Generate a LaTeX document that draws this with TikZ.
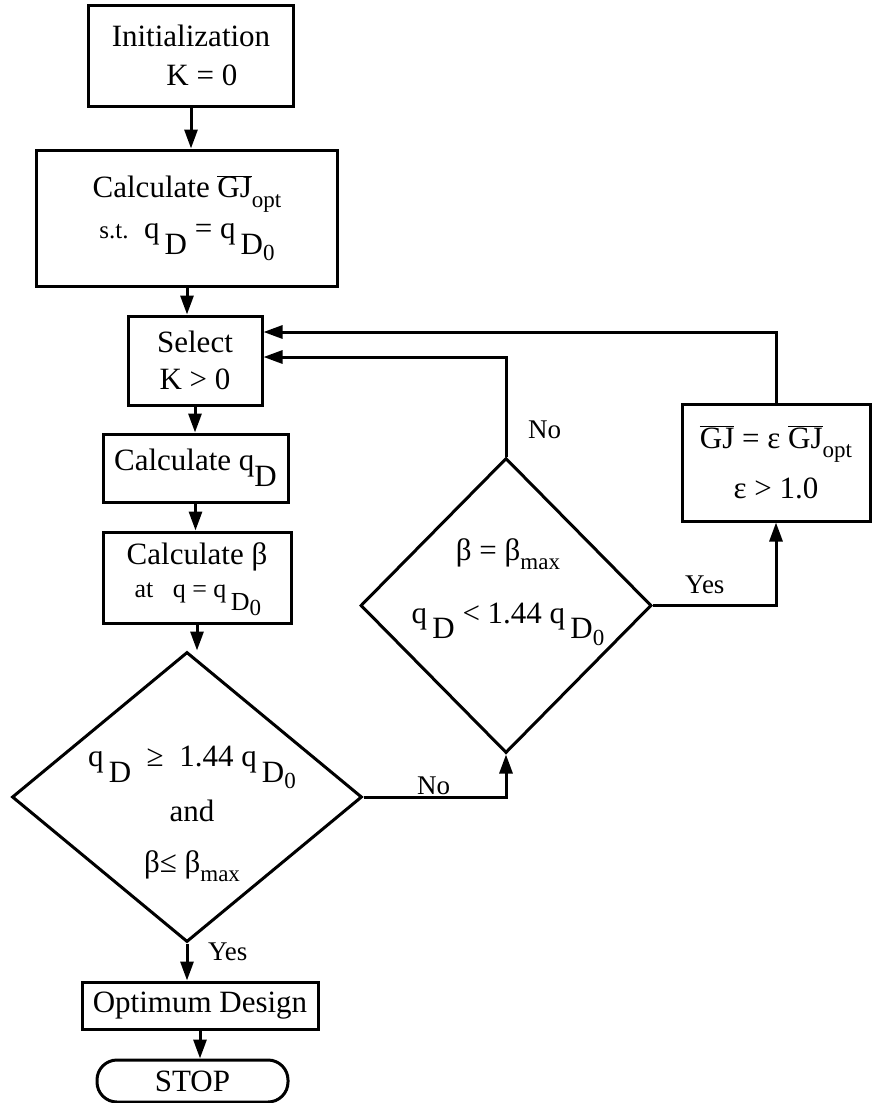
\documentclass[tikz,border=0pt]{standalone}
\usepackage{fontspec}
\setmainfont{Liberation Serif}
\usetikzlibrary{arrows.meta,shapes.geometric,calc}
\newcommand\sbs[1]{\raisebox{-0.5em}{#1}}
\newcommand\sml[1]{{\fontsize{23}{23}\selectfont #1}}
\newcommand\ovl[1]{$\overline{\hbox{#1}}$}
\newcommand\Dz{D\raisebox{-0.2em}{\sml{0}}}
\begin{document}
\begin{tikzpicture}[x=1pt,y=-1pt,
  every node/.style={font=\fontsize{31}{35}\selectfont},
  box/.style={draw, line width=3pt, inner sep=0pt, align=center},
  dia/.style={draw, diamond, line width=3pt, inner sep=0pt},
  txt/.style={inner sep=0pt, align=center},
  conn/.style={line width=3pt},
  arr/.style={conn, -{Triangle[length=19pt,width=13pt]}},
  lbl/.style={font=\fontsize{27}{30}\selectfont, inner sep=0pt}]
\useasboundingbox (0,0) rectangle (872,1103);

% main column
\node[box, minimum width=205pt, minimum height=101pt] (init) at (191,55.5)
  {Initialization\\[4pt]\hspace*{0.7em}K = 0};
\node[box, minimum width=301pt, minimum height=136pt] (gj) at (187,218)
  {Calculate \ovl{GJ}\raisebox{-0.3em}{\sml{opt}}\\[6pt]
   {\fontsize{25}{25}\selectfont s.t.}\ \ q\,\sbs{D} = q\,\sbs{\Dz}};
\node[box, minimum width=134pt, minimum height=89pt] (sel) at (195,360.5)
  {Select\\[2pt]K > 0};
\node[box, minimum width=185pt, minimum height=68pt] (cq) at (195.5,468)
  {\raisebox{0.3em}{Calculate q\sbs{D}}};
\node[box, minimum width=188pt, minimum height=91pt] (cb) at (197,577.5)
  {\raisebox{0.4em}{\begin{tabular}{@{}l@{}}Calculate β\\[-2pt]
   {\fontsize{26}{26}\selectfont \hspace*{0.3em}at \ \ q = q\,\sbs{\Dz}}\end{tabular}}};

\node[dia, minimum width=350pt, minimum height=290pt] (d1) at (187,797) {};
\node[txt] (d1t) at (192,814)
  {q\,\sbs{D} \ ≥ \ 1.44 q\,\sbs{\Dz}\\[10pt] and\\[16pt] β≤ β\raisebox{-0.3em}{\sml{max}}};

\node[box, minimum width=236pt, minimum height=47pt] (od) at (200,1005.5)
  {Optimum Design};
\node[draw, line width=3pt, rounded corners=20pt, minimum width=191pt,
  minimum height=42pt, inner sep=0pt] (stop) at (192.5,1081) {STOP};

% right part
\node[dia, minimum width=291pt, minimum height=295pt] (d2) at (506,605.5) {};
\node[txt] (d2t) at (508,592)
  {β = β\raisebox{-0.3em}{\sml{max}}\\[28pt] q\,\sbs{D} < 1.44 q\,\sbs{\Dz}};

\node[box, minimum width=188pt, minimum height=117pt] (gjb) at (776,462.5)
  {\raisebox{0.3em}{\ovl{GJ} = ε \ovl{GJ}\raisebox{-0.3em}{\sml{opt}}}\\[6pt]ε > 1.0};

\coordinate (fbA) at (0,332);
\coordinate (fbB) at (0,357);

% connectors
\draw[arr] (init.south) -- (init.south |- gj.north);
\draw[arr] (gj.south) -- (gj.south |- sel.north);
\draw[arr] (sel.south) -- (sel.south |- cq.north);
\draw[arr] (cq.south) -- (cq.south |- cb.north);
\draw[arr] (cb.south) -- (cb.south |- d1.north);
\draw[arr] (d1.south) -- (d1.south |- od.north);
\draw[arr] (od.south) -- (od.south |- stop.north);
\draw[arr] (d1.east) -- (d2.south |- d1.east) -- (d2.south);
\draw[arr] (d2.north) -- (d2.north |- fbB) -- (sel.east |- fbB);
\draw[arr] (d2.east) -- (gjb.south |- d2.east) -- (gjb.south);
\draw[arr] (gjb.north) -- (gjb.north |- fbA) -- (sel.east |- fbA);

% labels
\node[lbl, anchor=west] (lno2) at (528,430) {No};
\node[lbl, anchor=west] (lyes2) at (685,585) {Yes};
\node[lbl, anchor=west] (lno1) at (417,786) {No};
\node[lbl, anchor=west] (lyes1) at (208,952) {Yes};
\end{tikzpicture}
\end{document}
